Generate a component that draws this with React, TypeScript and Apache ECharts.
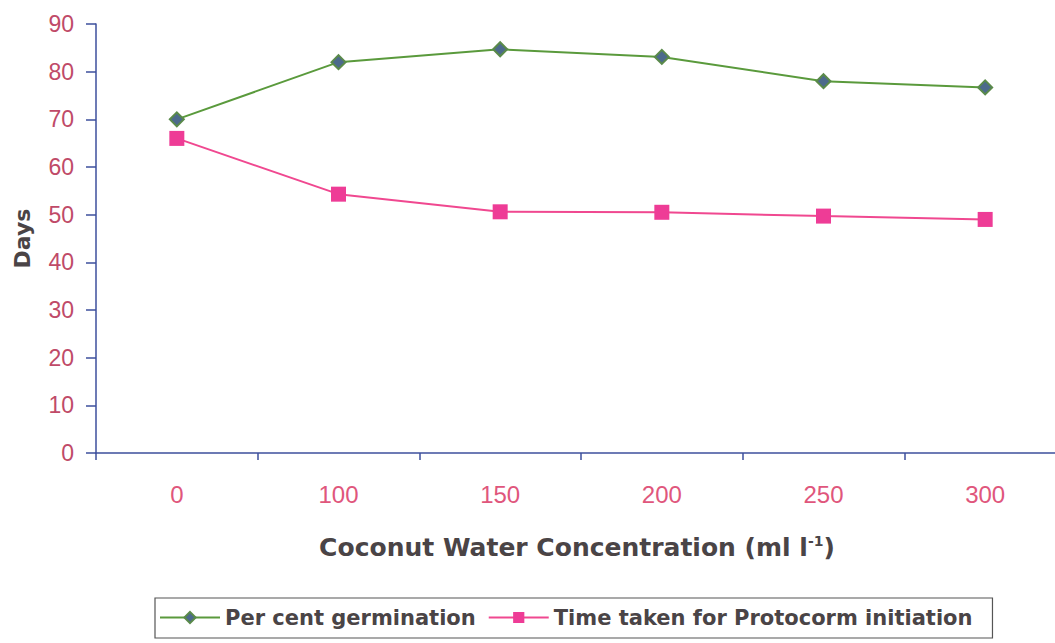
import React, { useEffect, useRef } from "react";
import * as echarts from "echarts";

const concentrations = ["0", "100", "150", "200", "250", "300"];
const germination = [70, 82, 84.7, 83.1, 78, 76.7];
const protocormDays = [66, 54.3, 50.6, 50.5, 49.7, 49];

const AXIS_BLUE = "#3c4f9c";
const TICK_FONT = "'Liberation Sans', Arial, sans-serif";
const TITLE_FONT = "'DejaVu Sans', 'Liberation Sans', sans-serif";
const TITLE_GREY = "#4a4446";

export default function App() {
  const ref = useRef<HTMLDivElement>(null);

  useEffect(() => {
    if (!ref.current) return;
    const chart = echarts.init(ref.current, undefined, { renderer: "svg" });
    chart.setOption({
      animation: false,
      backgroundColor: "#ffffff",
      textStyle: { fontFamily: TICK_FONT },
      grid: { left: 96, top: 24, width: 970, height: 429 },
      xAxis: {
        type: "category",
        data: concentrations,
        boundaryGap: true,
        name: "Coconut Water Concentration (ml l{sup|-1})",
        nameLocation: "middle",
        nameGap: 81,
        nameTextStyle: {
          fontFamily: TITLE_FONT,
          fontSize: 25,
          fontWeight: "bold",
          color: TITLE_GREY,
          padding: [0, 0, 0, -8],
          rich: {
            sup: {
              fontFamily: TITLE_FONT,
              fontSize: 14,
              fontWeight: "bold",
              color: TITLE_GREY,
              padding: [0, 0, 12, 0],
            },
          },
        },
        axisLine: { lineStyle: { color: AXIS_BLUE, width: 1.5 } },
        axisTick: { show: true, length: 7, lineStyle: { color: AXIS_BLUE, width: 1.5 } },
        axisLabel: { margin: 29, fontSize: 24, color: "#e0567c", fontFamily: TICK_FONT },
        splitLine: { show: false },
      },
      yAxis: {
        type: "value",
        min: 0,
        max: 90,
        interval: 10,
        name: "Days",
        nameLocation: "middle",
        nameRotate: 90,
        nameGap: 63,
        nameTextStyle: { fontFamily: TITLE_FONT, fontSize: 22, fontWeight: "bold", color: TITLE_GREY },
        axisLine: { show: true, lineStyle: { color: AXIS_BLUE, width: 1.5 } },
        axisTick: { show: true, length: 10, lineStyle: { color: AXIS_BLUE, width: 1.5 } },
        axisLabel: { margin: 22, fontSize: 23, color: "#c04a68", fontFamily: TICK_FONT },
        splitLine: { show: false },
      },
      legend: {
        left: 155,
        top: 598,
        itemGap: 12,
        itemWidth: 60,
        itemHeight: 14,
        padding: [9, 20, 10, 4],
        borderColor: "#555555",
        borderWidth: 1.2,
        textStyle: { fontFamily: TITLE_FONT, fontSize: 21, fontWeight: "bold", color: TITLE_GREY },
        data: ["Per cent germination", "Time taken for Protocorm initiation"],
      },
      series: [
        {
          name: "Per cent germination",
          type: "line",
          data: germination,
          symbol: "diamond",
          symbolSize: 14,
          lineStyle: { color: "#5a9a3c", width: 2 },
          itemStyle: { color: "#4c6a8c", borderColor: "#5a8a4a", borderWidth: 2 },
        },
        {
          name: "Time taken for Protocorm initiation",
          type: "line",
          data: protocormDays,
          symbol: "rect",
          symbolSize: 15,
          lineStyle: { color: "#f04890", width: 2 },
          itemStyle: { color: "#ee3c96", borderColor: "#ee3c96", borderWidth: 0 },
        },
      ],
    });
    return () => chart.dispose();
  }, []);

  return (
    <div
      ref={ref}
      style={{ position: "fixed", left: 0, top: 0, width: 1080, height: 643 }}
    />
  );
}
